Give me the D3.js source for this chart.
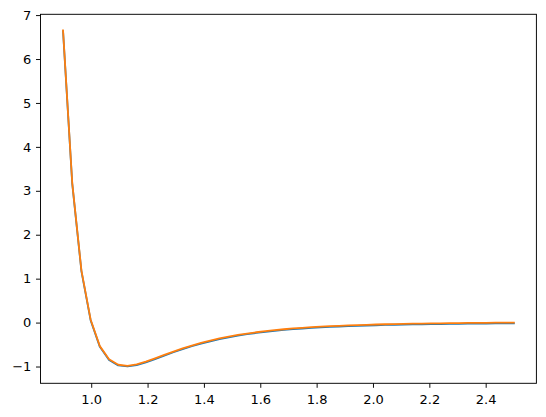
<!DOCTYPE html>
<html>
<head>
<meta charset="utf-8">
<script src="https://cdn.jsdelivr.net/npm/d3@7"></script>
<style>
  body { margin: 0; background: #fff; }
  svg text { font-family: "DejaVu Sans", sans-serif; font-size: 13px; fill: #000; }
</style>
</head>
<body>
<div id="chart"></div>
<script>
// sample positions (r)
const rValues = [0.9, 0.9327, 0.9653, 0.998, 1.0306, 1.0633, 1.0959, 1.1286, 1.1612, 1.1939,
    1.2265, 1.2592, 1.2918, 1.3245, 1.3571, 1.3898, 1.4224, 1.4551, 1.4878, 1.5204,
    1.5531, 1.5857, 1.6184, 1.651, 1.6837, 1.7163, 1.749, 1.7816, 1.8143, 1.8469,
    1.8796, 1.9122, 1.9449, 1.9776, 2.0102, 2.0429, 2.0755, 2.1082, 2.1408, 2.1735,
    2.2061, 2.2388, 2.2714, 2.3041, 2.3367, 2.3694, 2.402, 2.4347, 2.4673, 2.5];

// blue series
const blueValues = [6.636, 3.157, 1.167, 0.050, -0.552, -0.852, -0.976, -0.999, -0.966, -0.904,
    -0.830, -0.752, -0.675, -0.604, -0.538, -0.478, -0.425, -0.377, -0.335, -0.298,
    -0.265, -0.236, -0.210, -0.188, -0.168, -0.150, -0.135, -0.121, -0.109, -0.098,
    -0.089, -0.080, -0.073, -0.066, -0.060, -0.054, -0.049, -0.045, -0.041, -0.038,
    -0.034, -0.032, -0.029, -0.027, -0.024, -0.022, -0.021, -0.019, -0.018, -0.016];

// orange series
const orangeValues = [6.652, 3.173, 1.183, 0.066, -0.536, -0.836, -0.960, -0.983, -0.950, -0.888,
    -0.814, -0.736, -0.659, -0.588, -0.522, -0.462, -0.409, -0.361, -0.319, -0.282,
    -0.249, -0.220, -0.194, -0.172, -0.152, -0.134, -0.119, -0.105, -0.093, -0.082,
    -0.073, -0.064, -0.057, -0.050, -0.044, -0.038, -0.033, -0.029, -0.025, -0.022,
    -0.018, -0.016, -0.013, -0.011, -0.008, -0.006, -0.005, -0.003, -0.002, 0.000];

const xTicks = [1.0, 1.2, 1.4, 1.6, 1.8, 2.0, 2.2, 2.4];
const yTicks = [-1, 0, 1, 2, 3, 4, 5, 6, 7];

const width = 546, height = 417;
const margin = { top: 14.3, right: 9.6, bottom: 33.7, left: 40.5 };

const svg = d3.select("#chart").append("svg")
    .attr("width", width)
    .attr("height", height);

const x = d3.scaleLinear().domain([0.82, 2.58])
    .range([margin.left, width - margin.right]);
const y = d3.scaleLinear().domain([-1.382, 7.018])
    .range([height - margin.bottom, margin.top]);

const series = [
    { color: "#1f77b4", values: blueValues },
    { color: "#ff7f0e", values: orangeValues }
];

const line = d3.line()
    .x(d => x(d[0]))
    .y(d => y(d[1]));

svg.append("g").selectAll("path")
    .data(series).enter()
    .append("path")
    .attr("d", s => line(rValues.map((r, i) => [r, s.values[i]])))
    .attr("fill", "none")
    .attr("stroke", s => s.color)
    .attr("stroke-width", 1.8)
    .attr("stroke-linejoin", "round")
    .attr("stroke-linecap", "square");

// axes
const fmt = d => d < 0 ? "\u2212" + Math.abs(d) : String(d);
const xAxis = svg.append("g")
    .attr("transform", "translate(0," + (height - margin.bottom) + ")")
    .call(d3.axisBottom(x).tickValues(xTicks).tickFormat(d3.format(".1f"))
        .tickSize(4.5).tickPadding(7).tickSizeOuter(0));
const yAxis = svg.append("g")
    .attr("transform", "translate(" + margin.left + ",0)")
    .call(d3.axisLeft(y).tickValues(yTicks).tickFormat(fmt)
        .tickSize(4.5).tickPadding(4.7).tickSizeOuter(0));

[xAxis, yAxis].forEach(a => {
    a.select(".domain").remove();
    a.selectAll("line").attr("stroke", "#000").attr("stroke-width", 0.95);
    a.selectAll("text").style("font-family", "DejaVu Sans").style("font-size", "13px");
});

// frame
svg.append("rect")
    .attr("x", margin.left)
    .attr("y", margin.top)
    .attr("width", width - margin.left - margin.right)
    .attr("height", height - margin.top - margin.bottom)
    .attr("fill", "none")
    .attr("stroke", "#000")
    .attr("stroke-width", 0.95);
</script>
</body>
</html>
